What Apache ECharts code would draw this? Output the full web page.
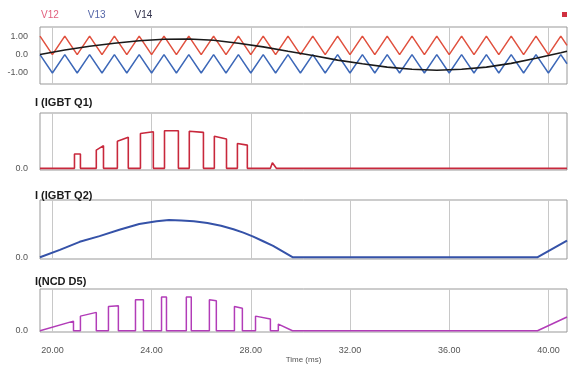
<!DOCTYPE html>
<html>
<head>
<meta charset="utf-8">
<script src="https://cdn.jsdelivr.net/npm/echarts@6/dist/echarts.min.js"></script>
<style>
  html, body { margin: 0; padding: 0; background: #fff; }
  #chart { width: 569px; height: 365px; }
</style>
</head>
<body>
<div id="chart"></div>
<script>
// time axis (ms)
const xTicks = [20, 24, 28, 32, 36, 40]

// carrier triangles V12 / V13 (vertices)
const carrierT = [19.5, 20, 20.5, 21, 21.5, 22, 22.5, 23, 23.5, 24, 24.5, 25, 25.5, 26, 26.5, 27, 27.5, 28, 28.5, 29, 29.5, 30, 30.5, 31, 31.5, 32, 32.5, 33, 33.5, 34, 34.5, 35, 35.5, 36, 36.5, 37, 37.5, 38, 38.5, 39, 39.5, 40, 40.5, 40.75]
const v12 = [1, 0, 1, 0, 1, 0, 1, 0, 1, 0, 1, 0, 1, 0, 1, 0, 1, 0, 1, 0, 1, 0, 1, 0, 1, 0, 1, 0, 1, 0, 1, 0, 1, 0, 1, 0, 1, 0, 1, 0, 1, 0, 1, 0.5]
const v13 = [0, -1, 0, -1, 0, -1, 0, -1, 0, -1, 0, -1, 0, -1, 0, -1, 0, -1, 0, -1, 0, -1, 0, -1, 0, -1, 0, -1, 0, -1, 0, -1, 0, -1, 0, -1, 0, -1, 0, -1, 0, -1, 0, -0.5]

// reference sine V14
const v14T = [19.5, 20.5, 21.5, 22.5, 23.5, 24.5, 25.5, 26.5, 27.5, 28.5, 29.5, 30.5, 31.5, 32.5, 33.5, 34.5, 35.5, 36.5, 37.5, 38.5, 39.5, 40.5, 40.75]
const v14 = [0, 0.25, 0.45, 0.62, 0.75, 0.83, 0.85, 0.78, 0.62, 0.42, 0.18, -0.05, -0.3, -0.5, -0.68, -0.8, -0.85, -0.8, -0.68, -0.48, -0.2, 0.1, 0.18]

// I (IGBT Q1)
const q1T = [19.5, 20.89, 20.89, 21.13, 21.13, 21.77, 21.77, 22.06, 22.06, 22.62, 22.62, 23.06, 23.06, 23.55, 23.55, 24.07, 24.07, 24.52, 24.52, 25.08, 25.08, 25.52, 25.52, 26.09, 26.09, 26.53, 26.53, 27.02, 27.02, 27.46, 27.46, 27.86, 27.86, 28.79, 28.87, 28.95, 29.03, 40.75]
const q1 = [0, 0, 0.26, 0.26, 0, 0, 0.33, 0.41, 0, 0, 0.49, 0.56, 0, 0, 0.63, 0.66, 0, 0, 0.68, 0.68, 0, 0, 0.67, 0.65, 0, 0, 0.58, 0.53, 0, 0, 0.45, 0.42, 0, 0, 0.1, 0.1, 0, 0]

// I (IGBT Q2)
const q2T = [19.5, 20.3, 21.1, 21.9, 22.7, 23.5, 24.2, 24.7, 25.2, 25.7, 26.25, 26.8, 27.3, 27.7, 28.1, 28.5, 28.9, 29.3, 29.7, 39.55, 40.75]
const q2 = [0, 0.13, 0.27, 0.37, 0.48, 0.58, 0.63, 0.65, 0.64, 0.63, 0.6, 0.55, 0.49, 0.43, 0.36, 0.28, 0.2, 0.1, 0, 0, 0.29]

// I(NCD D5)
const d5T = [19.5, 20.85, 20.85, 21.13, 21.13, 21.77, 21.77, 22.26, 22.26, 22.66, 22.66, 23.35, 23.35, 23.67, 23.67, 24.4, 24.4, 24.6, 24.6, 25.4, 25.4, 25.6, 25.6, 26.33, 26.33, 26.61, 26.61, 27.34, 27.34, 27.66, 27.66, 28.19, 28.19, 28.79, 28.79, 29.11, 29.11, 29.68, 39.56, 40.75]
const d5 = [0, 0.23, 0, 0, 0.35, 0.44, 0, 0, 0.58, 0.6, 0, 0, 0.74, 0.74, 0, 0, 0.81, 0.81, 0, 0, 0.81, 0.81, 0, 0, 0.74, 0.72, 0, 0, 0.58, 0.54, 0, 0, 0.35, 0.28, 0, 0, 0.16, 0, 0, 0.33]

const pairs = (t, v) => t.map((x, i) => [x, v[i]])

const chart = echarts.init(document.getElementById('chart'))

const font = 'Liberation Sans, Arial, sans-serif'
const panels = [
  { top: 27, height: 57 },
  { top: 113, height: 57 },
  { top: 200, height: 59 },
  { top: 289, height: 43 }
]

const xAxes = panels.map((p, i) => ({
  type: 'value',
  gridIndex: i,
  min: 19.5,
  max: 40.75,
  axisLine: { show: false },
  axisTick: { show: false, customValues: xTicks },
  axisLabel: {
    show: i === 3,
    customValues: xTicks,
    formatter: v => v.toFixed(2),
    color: '#555',
    fontSize: 9,
    fontFamily: font,
    margin: 14
  },
  splitLine: { show: true, lineStyle: { color: '#c8c8c8', width: 1 } },
  name: i === 3 ? 'Time (ms)' : '',
  nameLocation: 'middle',
  nameGap: 24,
  nameTextStyle: { color: '#555', fontSize: 8, fontFamily: font }
}))

const yAxes = panels.map((p, i) => i === 0 ? {
  type: 'value',
  gridIndex: 0,
  min: -1.6,
  max: 1.5,
  axisLine: { show: false },
  axisTick: { show: false, customValues: [-1, 0, 1] },
  axisLabel: {
    customValues: [-1, 0, 1],
    formatter: v => v === 0 ? '0.0' : v.toFixed(2),
    color: '#555', fontSize: 9, fontFamily: font, margin: 12
  },
  splitLine: { show: false }
} : {
  type: 'value',
  gridIndex: i,
  min: -0.03,
  max: 1,
  axisLine: { show: false },
  axisTick: { show: false, customValues: [0] },
  axisLabel: {
    customValues: [0],
    formatter: () => '0.0',
    color: '#555', fontSize: 9, fontFamily: font, margin: 12
  },
  splitLine: { show: false }
})

const line = (name, data, idx, color, width) => ({
  name,
  type: 'line',
  xAxisIndex: idx,
  yAxisIndex: idx,
  data,
  showSymbol: false,
  silent: true,
  lineStyle: { color, width },
  itemStyle: { color }
})

const option = {
  animation: false,
  backgroundColor: '#fff',
  textStyle: { fontFamily: font },
  legend: {
    data: [
      { name: 'V12', textStyle: { color: '#e2607e' } },
      { name: 'V13', textStyle: { color: '#5566a8' } },
      { name: 'V14', textStyle: { color: '#33334d' } }
    ],
    left: 30,
    top: 5,
    itemWidth: 0,
    itemHeight: 0,
    itemGap: 23,
    textStyle: { fontSize: 10, fontFamily: font },
    selectedMode: false
  },
  title: [
    { text: 'I (IGBT Q1)', left: 35, top: 97 },
    { text: 'I (IGBT Q2)', left: 35, top: 190 },
    { text: 'I(NCD D5)', left: 35, top: 276 }
  ].map(t => ({ ...t, padding: 0, textStyle: { fontSize: 11, fontWeight: 'bold', color: '#1a1a1a', fontFamily: font } })),
  grid: panels.map(p => ({
    left: 40, right: 2, top: p.top, height: p.height,
    show: true, borderColor: '#999', borderWidth: 1, backgroundColor: '#fff'
  })),
  xAxis: xAxes,
  yAxis: yAxes,
  graphic: [
    { type: 'rect', right: 2, top: 12, shape: { width: 5, height: 5 }, style: { fill: '#d03040' } }
  ],
  series: [
    line('V12', pairs(carrierT, v12), 0, '#e0503e', 1.5),
    line('V13', pairs(carrierT, v13), 0, '#3d68b8', 1.5),
    line('V14', pairs(v14T, v14), 0, '#1a1a1a', 1.6),
    line('Q1', pairs(q1T, q1), 1, '#c8283c', 1.6),
    line('Q2', pairs(q2T, q2), 2, '#3552a8', 2),
    line('D5', pairs(d5T, d5), 3, '#b23cb8', 1.5)
  ]
}

chart.setOption(option)
</script>
</body>
</html>
